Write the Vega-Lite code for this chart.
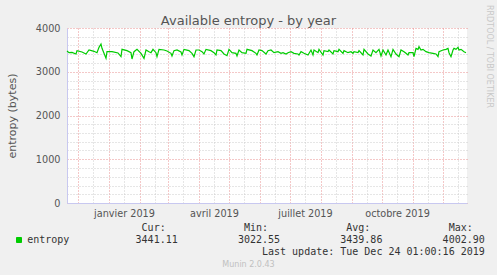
{
 "$schema": "https://vega.github.io/schema/vega-lite/v6.json",
 "width": 400,
 "height": 175,
 "autosize": {"type": "none"},
 "padding": {"left": 67, "top": 28, "right": 30, "bottom": 72},
 "background": "#f0f0f0",
 "config": {"font": "DejaVu Sans", "view": {"fill": "white", "stroke": null}},
 "data": {"values": [
{"date":"2018-11-20","entropy":3474},
{"date":"2018-11-22","entropy":3436},
{"date":"2018-11-25","entropy":3444},
{"date":"2018-11-29","entropy":3406},
{"date":"2018-11-30","entropy":3482},
{"date":"2018-12-05","entropy":3451},
{"date":"2018-12-09","entropy":3406},
{"date":"2018-12-12","entropy":3497},
{"date":"2018-12-17","entropy":3467},
{"date":"2018-12-20","entropy":3436},
{"date":"2018-12-22","entropy":3558},
{"date":"2018-12-24","entropy":3634},
{"date":"2018-12-25","entropy":3535},
{"date":"2018-12-27","entropy":3421},
{"date":"2018-12-29","entropy":3307},
{"date":"2018-12-30","entropy":3459},
{"date":"2019-01-04","entropy":3459},
{"date":"2019-01-10","entropy":3429},
{"date":"2019-01-13","entropy":3345},
{"date":"2019-01-14","entropy":3512},
{"date":"2019-01-19","entropy":3482},
{"date":"2019-01-23","entropy":3436},
{"date":"2019-01-24","entropy":3291},
{"date":"2019-01-26","entropy":3459},
{"date":"2019-01-29","entropy":3512},
{"date":"2019-02-02","entropy":3421},
{"date":"2019-02-05","entropy":3307},
{"date":"2019-02-07","entropy":3497},
{"date":"2019-02-10","entropy":3459},
{"date":"2019-02-12","entropy":3436},
{"date":"2019-02-14","entropy":3512},
{"date":"2019-02-17","entropy":3436},
{"date":"2019-02-18","entropy":3345},
{"date":"2019-02-20","entropy":3512},
{"date":"2019-02-25","entropy":3497},
{"date":"2019-02-28","entropy":3474},
{"date":"2019-03-04","entropy":3421},
{"date":"2019-03-05","entropy":3360},
{"date":"2019-03-07","entropy":3482},
{"date":"2019-03-10","entropy":3497},
{"date":"2019-03-14","entropy":3451},
{"date":"2019-03-15","entropy":3383},
{"date":"2019-03-17","entropy":3512},
{"date":"2019-03-22","entropy":3482},
{"date":"2019-03-25","entropy":3421},
{"date":"2019-03-27","entropy":3345},
{"date":"2019-03-29","entropy":3497},
{"date":"2019-04-01","entropy":3497},
{"date":"2019-04-04","entropy":3459},
{"date":"2019-04-06","entropy":3406},
{"date":"2019-04-08","entropy":3512},
{"date":"2019-04-13","entropy":3482},
{"date":"2019-04-16","entropy":3436},
{"date":"2019-04-18","entropy":3383},
{"date":"2019-04-19","entropy":3497},
{"date":"2019-04-23","entropy":3482},
{"date":"2019-04-26","entropy":3406},
{"date":"2019-04-29","entropy":3368},
{"date":"2019-05-01","entropy":3512},
{"date":"2019-05-04","entropy":3436},
{"date":"2019-05-08","entropy":3421},
{"date":"2019-05-09","entropy":3360},
{"date":"2019-05-11","entropy":3497},
{"date":"2019-05-14","entropy":3436},
{"date":"2019-05-18","entropy":3421},
{"date":"2019-05-19","entropy":3512},
{"date":"2019-05-24","entropy":3482},
{"date":"2019-05-28","entropy":3421},
{"date":"2019-05-29","entropy":3383},
{"date":"2019-05-31","entropy":3497},
{"date":"2019-06-03","entropy":3482},
{"date":"2019-06-07","entropy":3406},
{"date":"2019-06-09","entropy":3482},
{"date":"2019-06-12","entropy":3497},
{"date":"2019-06-15","entropy":3436},
{"date":"2019-06-19","entropy":3459},
{"date":"2019-06-22","entropy":3421},
{"date":"2019-06-24","entropy":3436},
{"date":"2019-06-27","entropy":3406},
{"date":"2019-06-29","entropy":3436},
{"date":"2019-07-02","entropy":3459},
{"date":"2019-07-05","entropy":3421},
{"date":"2019-07-09","entropy":3406},
{"date":"2019-07-10","entropy":3383},
{"date":"2019-07-12","entropy":3459},
{"date":"2019-07-15","entropy":3421},
{"date":"2019-07-19","entropy":3383},
{"date":"2019-07-22","entropy":3497},
{"date":"2019-07-24","entropy":3383},
{"date":"2019-07-25","entropy":3497},
{"date":"2019-07-29","entropy":3436},
{"date":"2019-07-30","entropy":3512},
{"date":"2019-08-03","entropy":3383},
{"date":"2019-08-04","entropy":3482},
{"date":"2019-08-08","entropy":3459},
{"date":"2019-08-09","entropy":3497},
{"date":"2019-08-13","entropy":3406},
{"date":"2019-08-14","entropy":3482},
{"date":"2019-08-18","entropy":3459},
{"date":"2019-08-19","entropy":3512},
{"date":"2019-08-23","entropy":3421},
{"date":"2019-08-24","entropy":3482},
{"date":"2019-08-28","entropy":3436},
{"date":"2019-08-31","entropy":3459},
{"date":"2019-09-02","entropy":3421},
{"date":"2019-09-03","entropy":3459},
{"date":"2019-09-07","entropy":3436},
{"date":"2019-09-08","entropy":3482},
{"date":"2019-09-12","entropy":3383},
{"date":"2019-09-13","entropy":3512},
{"date":"2019-09-17","entropy":3406},
{"date":"2019-09-20","entropy":3360},
{"date":"2019-09-22","entropy":3497},
{"date":"2019-09-25","entropy":3436},
{"date":"2019-09-28","entropy":3512},
{"date":"2019-09-30","entropy":3360},
{"date":"2019-10-02","entropy":3497},
{"date":"2019-10-05","entropy":3383},
{"date":"2019-10-07","entropy":3497},
{"date":"2019-10-10","entropy":3345},
{"date":"2019-10-12","entropy":3512},
{"date":"2019-10-15","entropy":3406},
{"date":"2019-10-18","entropy":3345},
{"date":"2019-10-20","entropy":3497},
{"date":"2019-10-23","entropy":3459},
{"date":"2019-10-25","entropy":3421},
{"date":"2019-10-27","entropy":3383},
{"date":"2019-10-28","entropy":3436},
{"date":"2019-11-01","entropy":3436},
{"date":"2019-11-02","entropy":3345},
{"date":"2019-11-04","entropy":3535},
{"date":"2019-11-06","entropy":3512},
{"date":"2019-11-07","entropy":3573},
{"date":"2019-11-09","entropy":3497},
{"date":"2019-11-11","entropy":3512},
{"date":"2019-11-14","entropy":3459},
{"date":"2019-11-17","entropy":3436},
{"date":"2019-11-21","entropy":3421},
{"date":"2019-11-24","entropy":3406},
{"date":"2019-11-26","entropy":3345},
{"date":"2019-11-27","entropy":3459},
{"date":"2019-12-01","entropy":3497},
{"date":"2019-12-04","entropy":3512},
{"date":"2019-12-06","entropy":3535},
{"date":"2019-12-07","entropy":3436},
{"date":"2019-12-09","entropy":3345},
{"date":"2019-12-11","entropy":3497},
{"date":"2019-12-12","entropy":3535},
{"date":"2019-12-14","entropy":3512},
{"date":"2019-12-16","entropy":3558},
{"date":"2019-12-17","entropy":3497},
{"date":"2019-12-19","entropy":3512},
{"date":"2019-12-22","entropy":3459},
{"date":"2019-12-24","entropy":3436}
 ]},
 "layer": [
  {
   "mark": {"type": "line", "strokeWidth": 1.2, "interpolate": "linear"},
   "encoding": {
    "x": {"field": "date", "type": "temporal",
     "scale": {"type": "utc", "domain": [{"year": 2018, "month": 11, "date": 20, "utc": true}, {"year": 2019, "month": 12, "date": 25, "utc": true}]},
     "axis": {
      "orient": "bottom",
      "values": [
       {"year": 2018, "month": 12, "date": 1, "utc": true}, {"year": 2018, "month": 12, "date": 16, "utc": true},
       {"year": 2019, "month": 1, "date": 1, "utc": true}, {"year": 2019, "month": 1, "date": 16, "utc": true},
       {"year": 2019, "month": 2, "date": 1, "utc": true}, {"year": 2019, "month": 2, "date": 16, "utc": true},
       {"year": 2019, "month": 3, "date": 1, "utc": true}, {"year": 2019, "month": 3, "date": 16, "utc": true},
       {"year": 2019, "month": 4, "date": 1, "utc": true}, {"year": 2019, "month": 4, "date": 16, "utc": true},
       {"year": 2019, "month": 5, "date": 1, "utc": true}, {"year": 2019, "month": 5, "date": 16, "utc": true},
       {"year": 2019, "month": 6, "date": 1, "utc": true}, {"year": 2019, "month": 6, "date": 16, "utc": true},
       {"year": 2019, "month": 7, "date": 1, "utc": true}, {"year": 2019, "month": 7, "date": 16, "utc": true},
       {"year": 2019, "month": 8, "date": 1, "utc": true}, {"year": 2019, "month": 8, "date": 16, "utc": true},
       {"year": 2019, "month": 9, "date": 1, "utc": true}, {"year": 2019, "month": 9, "date": 16, "utc": true},
       {"year": 2019, "month": 10, "date": 1, "utc": true}, {"year": 2019, "month": 10, "date": 16, "utc": true},
       {"year": 2019, "month": 11, "date": 1, "utc": true}, {"year": 2019, "month": 11, "date": 16, "utc": true},
       {"year": 2019, "month": 12, "date": 1, "utc": true}, {"year": 2019, "month": 12, "date": 16, "utc": true}
      ],
      "grid": true,
      "gridColor": {"condition": {"test": "utcdate(datum.value) == 1", "value": "#e89090"}, "value": "#cccccc"},
      "gridDash": [1, 2],
      "ticks": false,
      "tickSize": 0,
      "domainColor": "#c8c8f0",
      "labelExpr": "utcdate(datum.value) == 16 && utcmonth(datum.value) % 3 == 0 ? ['janvier','','','avril','','','juillet','','','octobre','',''][utcmonth(datum.value)] + ' ' + utcyear(datum.value) : ''",
      "labelFont": "DejaVu Sans",
      "labelFontSize": 9.7,
      "labelColor": "#555555",
      "labelPadding": 5.3,
      "labelBaseline": "top",
      "labelOverlap": false,
      "labelFlush": false,
      "labelBound": false,
      "title": [
       "\u200b\u00a0\u00a0\u00a0\u00a0\u00a0\u00a0\u00a0\u00a0\u00a0\u00a0\u00a0\u00a0\u00a0\u00a0\u00a0\u00a0\u00a0\u00a0\u00a0Cur:\u00a0\u00a0\u00a0\u00a0\u00a0\u00a0\u00a0\u00a0\u00a0\u00a0\u00a0\u00a0\u00a0Min:\u00a0\u00a0\u00a0\u00a0\u00a0\u00a0\u00a0\u00a0\u00a0\u00a0\u00a0\u00a0\u00a0Avg:\u00a0\u00a0\u00a0\u00a0\u00a0\u00a0\u00a0\u00a0\u00a0\u00a0\u00a0\u00a0\u00a0Max:",
       "entropy\u00a0\u00a0\u00a0\u00a0\u00a0\u00a0\u00a0\u00a0\u00a0\u00a0\u00a03441.11\u00a0\u00a0\u00a0\u00a0\u00a0\u00a0\u00a0\u00a0\u00a0\u00a03022.55\u00a0\u00a0\u00a0\u00a0\u00a0\u00a0\u00a0\u00a0\u00a0\u00a03439.86\u00a0\u00a0\u00a0\u00a0\u00a0\u00a0\u00a0\u00a0\u00a0\u00a04002.90",
       "\u200b\u00a0\u00a0\u00a0\u00a0\u00a0\u00a0\u00a0\u00a0\u00a0\u00a0\u00a0\u00a0\u00a0\u00a0\u00a0\u00a0\u00a0\u00a0\u00a0\u00a0\u00a0\u00a0\u00a0\u00a0\u00a0\u00a0\u00a0\u00a0\u00a0\u00a0\u00a0\u00a0\u00a0\u00a0\u00a0\u00a0\u00a0\u00a0\u00a0Last update: Tue Dec 24 01:00:16 2019"
      ],
      "titleFont": "DejaVu Sans Mono",
      "titleFontSize": 10,
      "titleFontWeight": "normal",
      "titleColor": "#333333",
      "titleAlign": "left",
      "titleAnchor": "start",
      "titleBaseline": "top",
      "titleX": -40.3,
      "titleY": 19.6,
      "titleLineHeight": 12.2
     }
    },
    "y": {"field": "entropy", "type": "quantitative",
     "scale": {"domain": [0, 4000], "nice": false},
     "axis": {
      "orient": "left",
      "values": [0, 200, 400, 600, 800, 1000, 1200, 1400, 1600, 1800, 2000, 2200, 2400, 2600, 2800, 3000, 3200, 3400, 3600, 3800, 4000],
      "grid": true,
      "gridColor": {"condition": {"test": "datum.value % 1000 == 0", "value": "#e89090"}, "value": "#cccccc"},
      "gridDash": [1, 2],
      "ticks": false,
      "tickSize": 0,
      "domainColor": "#c8c8f0",
      "format": "d",
      "labelExpr": "datum.value % 1000 == 0 ? datum.label : ''",
      "labelFontSize": 9.7,
      "labelColor": "#555555",
      "labelPadding": 7,
      "labelOverlap": false,
      "labelFlush": false,
      "labelBound": false,
      "title": "entropy (bytes)",
      "titleFontSize": 11,
      "titleFontWeight": "normal",
      "titleColor": "#555555",
      "titleAngle": -90,
      "titleX": -55,
      "titleY": 87.5,
      "titleAlign": "center",
      "titleBaseline": "middle"
     }
    },
    "color": {"datum": "entropy",
     "scale": {"domain": ["entropy"], "range": ["#00cc00"]},
     "legend": {
      "orient": "none", "legendX": -53, "legendY": 207, "title": null, "padding": 0,
      "symbolType": "square", "symbolSize": 25, "symbolFillColor": "#00cc00", "symbolStrokeColor": "#00cc00",
      "symbolStrokeWidth": 1, "symbolOpacity": 1,
      "labelExpr": "''",
      "labelFont": "DejaVu Sans Mono", "labelFontSize": 10, "labelColor": "#333333", "labelOffset": 6.7, "labelBaseline": "middle"
     }
    }
   }
  },
  {
   "mark": {"type": "line", "opacity": 0},
   "encoding": {
    "x": {"field": "date", "type": "temporal",
     "scale": {"type": "utc", "domain": [{"year": 2018, "month": 11, "date": 20, "utc": true}, {"year": 2019, "month": 12, "date": 25, "utc": true}]},
     "axis": {"orient": "top", "labels": false, "ticks": false, "domain": false, "grid": false,
      "title": "Available entropy - by year", "titleFont": "DejaVu Sans", "titleFontSize": 13, "titleFontWeight": "normal",
      "titleColor": "#555555", "titleX": 181, "titleY": -4, "titleAlign": "center", "titleBaseline": "alphabetic"}
    },
    "y": {"field": "entropy", "type": "quantitative",
     "scale": {"domain": [0, 4000], "nice": false},
     "axis": {"orient": "right", "labels": false, "ticks": false, "domain": false, "grid": false,
      "title": "RRDTOOL / TOBI OETIKER", "titleFontSize": 8, "titleFontWeight": "normal", "titleColor": "#c8c8c8",
      "titleAngle": 90, "titleX": 21, "titleY": 28, "titleAlign": "center", "titleBaseline": "middle"}
    }
   }
  },
  {
   "mark": {"type": "line", "opacity": 0},
   "encoding": {
    "x": {"field": "date", "type": "temporal",
     "scale": {"type": "utc", "domain": [{"year": 2018, "month": 11, "date": 20, "utc": true}, {"year": 2019, "month": 12, "date": 25, "utc": true}]},
     "axis": {"orient": "bottom", "labels": false, "ticks": false, "domain": false, "grid": false,
      "title": "Munin 2.0.43", "titleFont": "DejaVu Sans", "titleFontSize": 8, "titleFontWeight": "normal",
      "titleColor": "#c0c0c0", "titleX": 181, "titleY": 61, "titleAlign": "center", "titleBaseline": "middle"}
    },
    "y": {"field": "entropy", "type": "quantitative",
     "scale": {"domain": [0, 4000], "nice": false},
     "axis": null
    }
   }
  }
 ],
 "resolve": {"axis": {"x": "independent", "y": "independent"}}
}
